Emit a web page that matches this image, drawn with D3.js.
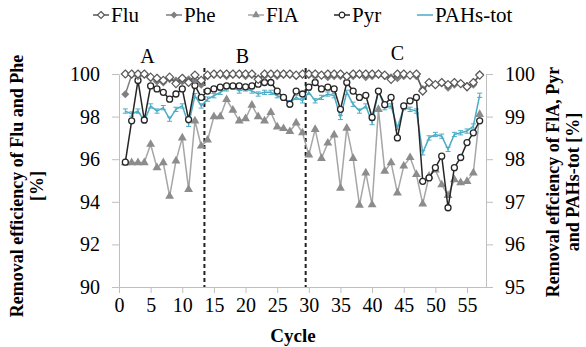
<!DOCTYPE html>
<html>
<head>
<meta charset="utf-8">
<script src="https://cdn.jsdelivr.net/npm/d3@7"></script>
<style>
  body { margin: 0; background: #fff; }
  svg { display: block; }
  svg text { font-family: "Liberation Serif", "Times New Roman", serif; fill: #000; }
</style>
</head>
<body>
<div id="chart"></div>
<script>
// cycle numbers (x) and removal efficiencies [%]
const cycles = [1, 2, 3, 4, 5, 6, 7, 8, 9, 10, 11, 12, 13, 14, 15, 16, 17, 18, 19, 20,
  21, 22, 23, 24, 25, 26, 27, 28, 29, 30, 31, 32, 33, 34, 35, 36, 37, 38, 39, 40,
  41, 42, 43, 44, 45, 46, 47, 48, 49, 50, 51, 52, 53, 54, 55, 56, 57];

// left axis
const flu = [100, 100, 100, 100, 99.85, 99.8, 99.7, 99.85, 99.55, 99.8, 99.6, 99.95, 99.7,
  99.95, 100, 100, 100, 100, 100, 100, 100, 99.75, 100, 100, 100, 100, 100, 99.95, 100,
  100, 100, 99.95, 100, 100, 100, 99.9, 100, 100, 100, 100, 100, 99.95, 99.75, 100, 100, 99.95, 100,
  99.2, 99.6, 99.5, 99.6, 99.5, 99.6, 99.55, 99.4, 99.6, 99.95];
const phe = [99.05, 99.95, 99.9, 99.95, 99.8, 99.65, 99.6, 99.75, 99.7, 99.65, 99.75, 99.7, 99.5,
  99.9, 99.95, 99.95, 99.9, 99.95, 99.95, 99.9, 99.95, 99.8, 99.9, 99.95, 99.9, 99.95, 99.95, 99.9, 99.95,
  99.95, 99.9, 99.95, 99.85, 99.9, 99.9, 99.85, 99.9, 99.95, 99.85, 99.9, 99.95, 99.9, 99.85, 99.8, 99.9, 99.95, 99.9,
  99.3, 99.55, 99.5, 99.55, 99.35, 99.5, 99.55, 99.45, 99.5, 100];

// right axis
const fla = [97.92, 97.92, 97.92, 97.92, 98.35, 97.8, 97.92, 97.13, 97.96, 98.5, 97.29, 98.9, 98.31,
  98.45, 99.0, 99.0, 99.4, 99.15, 98.9, 98.95, 99.27, 99.0, 98.9, 99.1, 98.76, 98.72, 98.65, 98.85, 98.62,
  98.1, 98.7, 98.02, 98.38, 98.57, 97.32, 98.73, 98.02, 96.92, 97.68, 96.93, 99.17, 97.72, 97.92, 97.21, 97.84, 98.04, 97.64,
  96.95, 97.6, 97.75, 97.4, 97.15, 97.52, 97.45, 97.48, 97.68, 99.05];
const pyr = [97.93, 98.9, 99.85, 98.92, 99.72, 99.65, 99.57, 99.41, 99.53, 99.65, 98.93, 99.73, 99.45,
  99.6, 99.65, 99.69, 99.72, 99.72, 99.72, 99.7, 99.72, 99.76, 99.8, 99.8, 99.6, 99.45, 99.29, 99.6, 99.53,
  99.69, 99.8, 99.65, 99.69, 99.65, 99.17, 99.8, 99.6, 99.45, 99.5, 98.98, 99.6, 99.28, 99.45, 98.5, 99.25, 99.37, 99.45,
  97.48, 97.56, 97.8, 98.07, 96.86, 97.8, 98.04, 98.39, 98.62, 98.9];
const pahsTot = [99.13, 99.06, 99.13, 98.9, 99.25, 99.13, 99.21, 98.94, 99.17, 99.25, 98.82, 99.49, 99.25,
  99.41, 99.49, 99.57, 99.65, 99.69, 99.6, 99.65, 99.6, 99.53, 99.57, 99.57, 99.49, 99.45, 99.33, 99.45, 99.37,
  99.57, 99.37, 99.45, 99.53, 99.49, 98.98, 99.57, 99.29, 99.13, 99.25, 98.86, 99.6, 99.21, 99.25, 98.74, 99.21, 99.17, 99.13,
  98.15, 98.5, 98.58, 98.54, 98.23, 98.58, 98.62, 98.66, 98.78, 99.5];
const pahsErr = 0.05;

const xTicks = [0, 5, 10, 15, 20, 25, 30, 35, 40, 45, 50, 55];
const leftTicks = [90, 92, 94, 96, 98, 100];
const rightTicks = [95, 96, 97, 98, 99, 100];
const phaseNames = ['A', 'B', 'C'];
const phaseBreaks = [13.5, 29.5];

const width = 586;
const height = 347;

const svg = d3.select('#chart')
  .append('svg')
  .attr('width', width)
  .attr('height', height);

// scales
const x = d3.scaleLinear().domain([0, 58]).range([119, 486]);
const yL = d3.scaleLinear().domain([90, 100]).range([287, 74]);
const yR = d3.scaleLinear().domain([95, 100]).range([287, 74]);

const axisColor = '#bfbfbf';

// axes
const styleAxis = g => {
  g.attr('font-family', null);
  g.select('.domain').attr('stroke', axisColor);
  g.selectAll('.tick line').attr('stroke', axisColor);
  g.selectAll('.tick text').style('font-size', '20px');
};

svg.append('g')
  .attr('transform', `translate(0,${yL(90)})`)
  .call(d3.axisBottom(x).tickValues(xTicks).tickSize(6).tickPadding(5).tickSizeOuter(0))
  .call(styleAxis);

svg.append('g')
  .attr('transform', `translate(${x(0)},0)`)
  .call(d3.axisLeft(yL).tickValues(leftTicks).tickFormat(d3.format('d'))
    .tickSize(7).tickPadding(12).tickSizeOuter(0))
  .call(styleAxis);

svg.append('g')
  .attr('transform', `translate(${x(58)},0)`)
  .call(d3.axisRight(yR).tickValues(rightTicks).tickFormat(d3.format('d'))
    .tickSize(7).tickPadding(12).tickSizeOuter(0))
  .call(styleAxis);

// phase separators
svg.selectAll('line.phase')
  .data(phaseBreaks)
  .enter()
  .append('line')
  .attr('class', 'phase')
  .attr('x1', d => x(d)).attr('x2', d => x(d))
  .attr('y1', 68).attr('y2', yL(90))
  .attr('stroke', '#222')
  .attr('stroke-width', 2)
  .attr('stroke-dasharray', '4,3');

const phaseAt = [4.5, 19.5, 44];
svg.selectAll('text.phase')
  .data(phaseNames)
  .enter()
  .append('text')
  .attr('class', 'phase')
  .attr('x', (d, i) => x(phaseAt[i]))
  .attr('y', (d, i) => i === 2 ? 60 : 63)
  .attr('text-anchor', 'middle')
  .style('font-size', '20px')
  .text(d => d);

// markers
const diamond = r => `M0,${-r}L${r},0L0,${r}L${-r},0Z`;
const triangle = d3.symbol().type(d3.symbolTriangle).size(34);

function drawLine(values, yScale, color, w) {
  const line = d3.line()
    .x((d, i) => x(cycles[i]))
    .y(d => yScale(d));
  svg.append('path')
    .datum(values)
    .attr('d', line)
    .attr('fill', 'none')
    .attr('stroke', color)
    .attr('stroke-width', w);
}

// FlA
drawLine(fla, yR, '#a6a6a6', 1.5);
svg.append('g').selectAll('path')
  .data(fla)
  .enter()
  .append('path')
  .attr('d', triangle)
  .attr('transform', (d, i) => `translate(${x(cycles[i])},${yR(d)})`)
  .attr('fill', '#8c8c8c');

// PAHs-tot with error bars
drawLine(pahsTot, yR, '#4bacc6', 1.5);
const errG = svg.append('g').attr('stroke', '#4bacc6').attr('stroke-width', 1);
pahsTot.forEach((v, i) => {
  const cx = x(cycles[i]);
  errG.append('line').attr('x1', cx).attr('x2', cx)
    .attr('y1', yR(v - pahsErr)).attr('y2', yR(v + pahsErr));
  errG.append('line').attr('x1', cx - 2.5).attr('x2', cx + 2.5)
    .attr('y1', yR(v - pahsErr)).attr('y2', yR(v - pahsErr));
  errG.append('line').attr('x1', cx - 2.5).attr('x2', cx + 2.5)
    .attr('y1', yR(v + pahsErr)).attr('y2', yR(v + pahsErr));
});

// Pyr
drawLine(pyr, yR, '#262626', 1.5);
svg.append('g').selectAll('circle')
  .data(pyr)
  .enter()
  .append('circle')
  .attr('cx', (d, i) => x(cycles[i]))
  .attr('cy', d => yR(d))
  .attr('r', 3)
  .attr('fill', '#fff')
  .attr('stroke', '#262626')
  .attr('stroke-width', 1.3);

// Phe
drawLine(phe, yL, '#7f7f7f', 1.5);
svg.append('g').selectAll('path')
  .data(phe)
  .enter()
  .append('path')
  .attr('d', diamond(4))
  .attr('transform', (d, i) => `translate(${x(cycles[i])},${yL(d)})`)
  .attr('fill', '#7f7f7f');

// Flu
drawLine(flu, yL, '#595959', 1.3);
svg.append('g').selectAll('path')
  .data(flu)
  .enter()
  .append('path')
  .attr('d', diamond(4))
  .attr('transform', (d, i) => `translate(${x(cycles[i])},${yL(d)})`)
  .attr('fill', '#fff')
  .attr('stroke', '#595959')
  .attr('stroke-width', 1.2);

// axis titles
const leftTitle = svg.append('text')
  .attr('transform', 'translate(17,186) rotate(-90)')
  .attr('text-anchor', 'middle')
  .attr('dy', '0.35em')
  .style('font-size', '18px')
  .style('font-weight', 'bold');
leftTitle.append('tspan').attr('x', 0).text('Removal efficiency of Flu and Phe');
leftTitle.append('tspan').attr('x', 0).attr('dy', '1.1em').text('[%]');

const rightTitle = svg.append('text')
  .attr('transform', 'translate(553,182) rotate(-90)')
  .attr('text-anchor', 'middle')
  .attr('dy', '0.35em')
  .style('font-size', '18px')
  .style('font-weight', 'bold');
rightTitle.append('tspan').attr('x', 0).text('Removal effciency of FlA, Pyr');
rightTitle.append('tspan').attr('x', 0).attr('dy', '1.1em').text('and PAHs-tot [%]');

svg.append('text')
  .attr('x', 293)
  .attr('y', 342)
  .attr('text-anchor', 'middle')
  .style('font-size', '19px')
  .style('font-weight', 'bold')
  .text('Cycle');

// legend
const legendItems = [
  { name: 'Flu', color: '#595959', mark: 'open-diamond' },
  { name: 'Phe', color: '#7f7f7f', mark: 'diamond' },
  { name: 'FlA', color: '#a6a6a6', mark: 'triangle' },
  { name: 'Pyr', color: '#262626', mark: 'circle' },
  { name: 'PAHs-tot', color: '#4bacc6', mark: 'none' }
];
const legendX = [101, 174, 256, 342, 425];
const legendY = 15;

const legend = svg.selectAll('g.legend')
  .data(legendItems)
  .enter()
  .append('g')
  .attr('class', 'legend')
  .attr('transform', (d, i) => `translate(${legendX[i]},${legendY})`);

legend.append('line')
  .attr('x1', -8).attr('x2', 8)
  .attr('stroke', d => d.color)
  .attr('stroke-width', 1.5);

legend.each(function (d) {
  const g = d3.select(this);
  if (d.mark === 'open-diamond') {
    g.append('path').attr('d', diamond(3.5)).attr('fill', '#fff').attr('stroke', d.color).attr('stroke-width', 1.2);
  } else if (d.mark === 'diamond') {
    g.append('path').attr('d', diamond(3.5)).attr('fill', d.color);
  } else if (d.mark === 'triangle') {
    g.append('path').attr('d', d3.symbol().type(d3.symbolTriangle).size(26)).attr('fill', '#8c8c8c');
  } else if (d.mark === 'circle') {
    g.append('circle').attr('r', 2.8).attr('fill', '#fff').attr('stroke', d.color).attr('stroke-width', 1.2);
  }
});

legend.append('text')
  .attr('x', 10)
  .attr('dy', '0.35em')
  .style('font-size', '21px')
  .text(d => d.name);
</script>
</body>
</html>
